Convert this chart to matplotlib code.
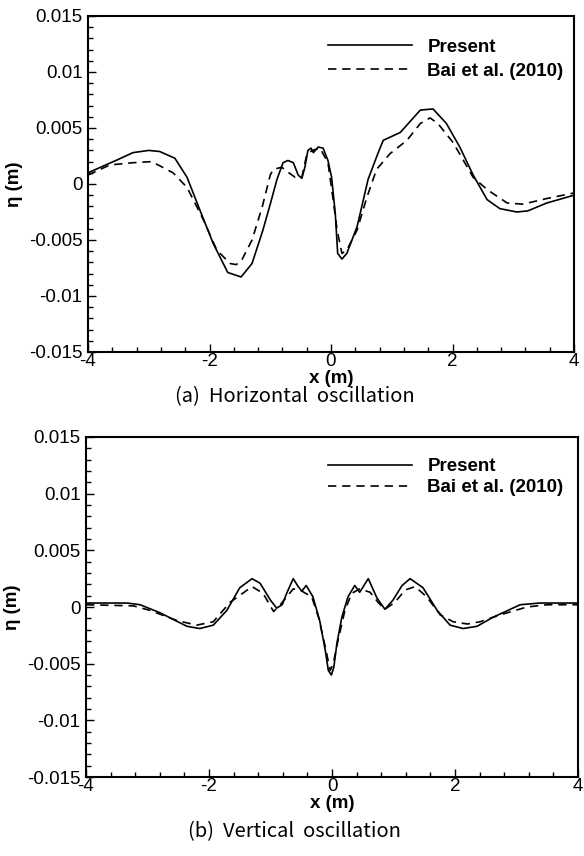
import matplotlib.pyplot as plt
from matplotlib.ticker import MultipleLocator

plt.rcParams['font.family'] = ['Liberation Sans', 'DejaVu Sans']
plt.rcParams['axes.unicode_minus'] = False

# (a) horizontal oscillation, present model
xa_present = [-4.0, -3.75, -3.5, -3.26, -3.0, -2.82, -2.57, -2.37, -2.16, -1.94,
              -1.70, -1.48, -1.30, -1.12, -1.0, -0.89, -0.79, -0.71, -0.62, -0.54,
              -0.48, -0.43, -0.38, -0.33, -0.29, -0.21, -0.13, -0.05, 0.01, 0.07,
              0.11, 0.18, 0.26, 0.43, 0.61, 0.77, 0.86, 1.14, 1.47, 1.68,
              1.90, 2.12, 2.34, 2.57, 2.78, 3.06, 3.24, 3.55, 4.0]
ya_present = [0.0010, 0.0016, 0.0022, 0.0028, 0.0030, 0.0029, 0.0023, 0.0006, -0.0023, -0.0053,
              -0.0079, -0.0083, -0.0071, -0.0041, -0.0018, 0.0004, 0.0019, 0.0021, 0.0019, 0.0008,
              0.0005, 0.0015, 0.0030, 0.0032, 0.0028, 0.0033, 0.0032, 0.0021, 0.0006, -0.0026,
              -0.0062, -0.0067, -0.0062, -0.0038, 0.0004, 0.0027, 0.0039, 0.0046, 0.0066, 0.0067,
              0.0054, 0.0033, 0.0008, -0.0014, -0.0022, -0.0025, -0.0024, -0.0017, -0.0010]

# (a) horizontal oscillation, Bai et al. (2010)
xa_bai = [-4.0, -3.64, -3.26, -2.95, -2.6, -2.37, -2.1, -1.88, -1.66, -1.56,
          -1.47, -1.30, -1.13, -1.0, -0.95, -0.81, -0.72, -0.59, -0.48, -0.40,
          -0.31, -0.18, -0.05, 0.03, 0.10, 0.18, 0.26, 0.43, 0.59, 0.75,
          0.97, 1.25, 1.47, 1.63, 1.76, 2.01, 2.34, 2.57, 2.9, 3.16,
          3.55, 4.0]
ya_bai = [0.0008, 0.0017, 0.0019, 0.0020, 0.0010, -0.0003, -0.0032, -0.0059, -0.0071, -0.0072,
          -0.0068, -0.0050, -0.0020, 0.0008, 0.0013, 0.0015, 0.0011, 0.0006, 0.0006, 0.0026,
          0.0030, 0.0032, 0.0019, -0.0012, -0.0041, -0.0062, -0.0059, -0.0041, -0.0012, 0.0013,
          0.0027, 0.0039, 0.0054, 0.0059, 0.0054, 0.0037, 0.0006, -0.0005, -0.0017, -0.0018,
          -0.0013, -0.0008]

# (b) vertical oscillation, present model
xb_present = [-4.0, -3.33, -3.12, -2.8, -2.36, -2.15, -1.93, -1.71, -1.5, -1.30,
              -1.17, -1.0, -0.9, -0.81, -0.73, -0.63, -0.55, -0.49, -0.42, -0.31,
              -0.2, -0.11, -0.06, -0.01, 0.03, 0.08, 0.16, 0.26, 0.37, 0.45,
              0.59, 0.73, 0.86, 0.99, 1.14, 1.27, 1.48, 1.71, 1.92, 2.13,
              2.36, 2.62, 3.06, 3.38, 4.0]
yb_present = [0.00035, 0.00035, 0.0002, -0.0005, -0.0017, -0.0019, -0.0016, -0.0003, 0.0017, 0.0025,
              0.0021, 0.0006, -0.0001, 0.0002, 0.0013, 0.0025, 0.0018, 0.0014, 0.0019, 0.0009,
              -0.0012, -0.0038, -0.0056, -0.0060, -0.0053, -0.0032, -0.0009, 0.0009, 0.0019, 0.0013,
              0.0025, 0.0008, -0.0002, 0.0006, 0.0019, 0.0025, 0.0017, -0.0003, -0.0016, -0.0019,
              -0.0017, -0.0009, 0.0002, 0.00035, 0.00035]

# (b) vertical oscillation, Bai et al. (2010)
xb_bai = [-4.0, -3.23, -2.96, -2.52, -2.2, -1.93, -1.66, -1.3, -1.12, -0.95,
          -0.84, -0.63, -0.49, -0.33, -0.22, -0.11, -0.03, 0.02, 0.1, 0.21,
          0.32, 0.45, 0.62, 0.75, 0.86, 1.02, 1.19, 1.35, 1.54, 1.76,
          1.97, 2.2, 2.41, 2.73, 3.17, 3.5, 4.0]
yb_bai = [0.0002, 0.0001, -0.0003, -0.0012, -0.0016, -0.0013, 0.0004, 0.0018, 0.0012, -0.0004,
          0.0002, 0.0016, 0.0014, 0.0009, -0.0009, -0.0035, -0.0056, -0.0050, -0.0029, -0.0003,
          0.0012, 0.0016, 0.0013, 0.0004, -0.0002, 0.0004, 0.0015, 0.0018, 0.0009, -0.0007,
          -0.0013, -0.0015, -0.0013, -0.0007, 0.0, 0.0002, 0.0002]

yticks = [0.015, 0.01, 0.005, 0, -0.005, -0.01, -0.015]
ytick_labels = ['0.015', '0.01', '0.005', '0', '-0.005', '-0.01', '-0.015']
xticks = [-4, -2, 0, 2, 4]
xtick_labels = ['-4', '-2', '0', '2', '4']
captions = ['(a)  Horizontal  oscillation', '(b)  Vertical  oscillation']

fig = plt.figure(figsize=(5.84, 8.56), dpi=100)
ax1 = fig.add_axes([88/584, 1-352/856, 486/584, 336/856])
ax2 = fig.add_axes([86/584, 1-777/856, 492/584, 340/856])

# axes, legend anchor (x, y), legend row spacing
panels = [(ax1, xa_present, ya_present, xa_bai, ya_bai, (0.494, 0.932), 0.36),
          (ax2, xb_present, yb_present, xb_bai, yb_bai, (0.492, 0.938), 0.2)]

for ax, xp, yp, xb, yb, anchor, lspace in panels:
    ax.plot(xp, yp, color='black', lw=1.2, label='Present')
    ax.plot(xb, yb, color='black', lw=1.2, dashes=(5, 3.5), label='Bai et al. (2010)')
    ax.set_xlim(-4, 4)
    ax.set_ylim(-0.015, 0.015)
    ax.set_xticks(xticks)
    ax.set_xticklabels(xtick_labels)
    ax.set_yticks(yticks)
    ax.set_yticklabels(ytick_labels)
    ax.xaxis.set_minor_locator(MultipleLocator(0.4))
    ax.yaxis.set_minor_locator(MultipleLocator(0.001))
    ax.tick_params(which='both', direction='in', labelsize=13.5, width=1)
    ax.tick_params(which='major', length=6)
    ax.tick_params(which='minor', length=3.5)
    ax.tick_params(axis='x', pad=1)
    ax.tick_params(axis='y', pad=4)
    for sp in ax.spines.values():
        sp.set_linewidth(1.5)
    ax.set_xlabel('x (m)', fontsize=13.5, fontweight='bold', labelpad=0)
    ax.set_ylabel('η (m)', fontsize=13.5, fontweight='bold', labelpad=4)
    ax.legend(loc='upper left', bbox_to_anchor=anchor, frameon=False,
              borderpad=0, borderaxespad=0, handlelength=4.5, handletextpad=0.8,
              labelspacing=lspace, prop={'weight': 'bold', 'size': 13.5})

fig.text(0.505, 1-397/856, captions[0], ha='center', va='center', fontsize=14.5,
         family=['Noto Sans CJK KR', 'DejaVu Sans'], fontweight='light')
fig.text(0.505, 1-832/856, captions[1], ha='center', va='center', fontsize=14.5,
         family=['Noto Sans CJK KR', 'DejaVu Sans'], fontweight='light')

fig.savefig('out.png', dpi=100)
